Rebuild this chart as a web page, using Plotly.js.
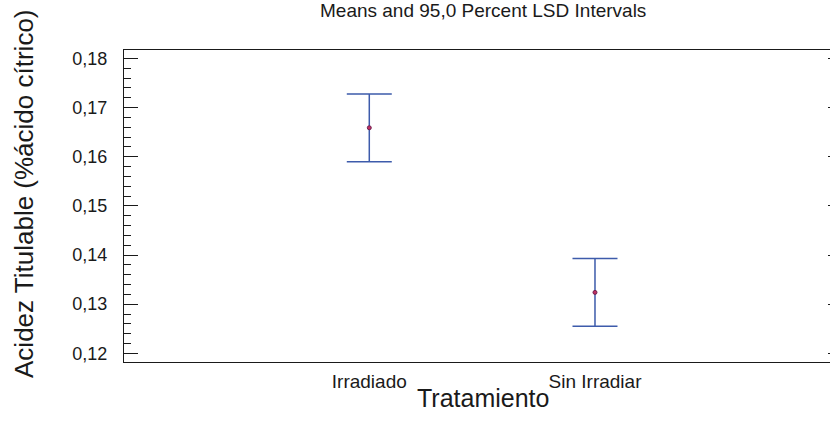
<!DOCTYPE html>
<html>
<head>
<meta charset="utf-8">
<script src="https://cdn.plot.ly/plotly-3.0.1.min.js"></script>
<style>
  html, body { margin: 0; padding: 0; width: 830px; height: 423px; overflow: hidden; background: #fff; }
  #wrap { position: relative; width: 830px; height: 423px; overflow: hidden; }
  #chart { position: absolute; left: 0; top: 0; width: 842px; height: 423px; }
</style>
</head>
<body>
<div id="wrap">
  <div id="chart"></div>
</div>
<script>
// Treatment groups and their means with 95% LSD half-widths
const categories = ['Irradiado', 'Sin Irradiar'];
const means = [0.1659, 0.1324];
const lsdHalf = [0.0069, 0.0069];
const yTickVals = [0.12, 0.13, 0.14, 0.15, 0.16, 0.17, 0.18];

const FONT = 'Liberation Sans, Arial, sans-serif';
const INK = '#1a1a1a';

const trace = {
  type: 'scatter',
  mode: 'markers',
  x: categories,
  y: means,
  marker: { symbol: 'circle', size: 4, color: '#c03060', line: { color: '#702050', width: 1 } },
  error_y: { type: 'data', array: lsdHalf, visible: true, color: '#3d5bab', thickness: 1.5, width: 22.5 },
  hoverinfo: 'skip',
  showlegend: false
};

const layout = {
  width: 842,
  height: 423,
  margin: { l: 124, r: 0, t: 50, b: 61 },
  paper_bgcolor: '#ffffff',
  plot_bgcolor: '#ffffff',
  separators: ',.',
  font: { family: FONT, color: INK },
  xaxis: {
    type: 'category',
    range: [-1.0868, 2.0944],
    showgrid: false,
    zeroline: false,
    showline: true,
    linecolor: INK,
    linewidth: 1,
    mirror: true,
    ticks: '',
    tickfont: { family: FONT, size: 19, color: INK },
    ticklabelstandoff: 2
  },
  yaxis: {
    range: [0.11823, 0.18173],
    tickvals: yTickVals,
    tickformat: '.2f',
    showgrid: false,
    zeroline: false,
    showline: true,
    linecolor: INK,
    linewidth: 1,
    mirror: 'allticks',
    ticks: 'inside',
    ticklen: 14,
    tickwidth: 1,
    tickcolor: INK,
    tickfont: { family: FONT, size: 18, color: INK },
    ticklabelstandoff: 12,
    minor: { dtick: 0.002, ticks: 'inside', ticklen: 7, tickwidth: 1, tickcolor: INK, showgrid: false }
  },
  annotations: [
    {
      text: 'Means and 95,0 Percent LSD Intervals',
      xref: 'paper', yref: 'paper',
      x: 0.5, y: 1, yshift: 27,
      xanchor: 'center', yanchor: 'bottom',
      showarrow: false,
      font: { family: FONT, size: 19, color: INK }
    },
    {
      text: 'Tratamiento',
      xref: 'paper', yref: 'paper',
      x: 0.5, y: 0, yshift: -20,
      xanchor: 'center', yanchor: 'top',
      showarrow: false,
      font: { family: FONT, size: 25, color: INK }
    },
    {
      text: 'Acidez Titulable (%ácido cítrico)',
      xref: 'paper', yref: 'paper',
      x: -0.1393, y: -0.0577,
      xanchor: 'center', yanchor: 'bottom',
      textangle: -90,
      showarrow: false,
      font: { family: FONT, size: 26, color: INK }
    }
  ]
};

Plotly.newPlot('chart', [trace], layout, { displayModeBar: false, staticPlot: true });
</script>
</body>
</html>
